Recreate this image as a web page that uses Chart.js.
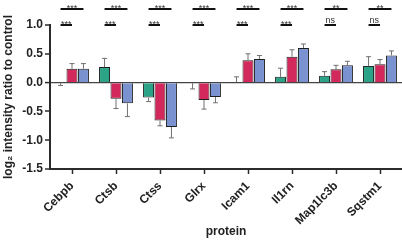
<!DOCTYPE html>
<html>
<head>
<meta charset="utf-8">
<script src="https://cdn.jsdelivr.net/npm/chart.js@4"></script>
<style>
  html, body { margin: 0; padding: 0; background: #fff; }
  #wrap { width: 402px; height: 242px; }
</style>
</head>
<body>
<div id="wrap"><canvas id="chart" width="402" height="242"></canvas></div>
<script>
const proteins = ['Cebpb', 'Ctsb', 'Ctss', 'Glrx', 'Icam1', 'Il1rn', 'Map1lc3b', 'Sqstm1'];

// mean log2 ratios per group
const tealValues = [-0.01, 0.27, -0.26, -0.01, 0.01, 0.10, 0.12, 0.29];
const redValues = [0.24, -0.28, -0.66, -0.30, 0.39, 0.45, 0.23, 0.32];
const blueValues = [0.24, -0.36, -0.77, -0.25, 0.41, 0.60, 0.30, 0.47];

// error bar lengths (one-sided)
const tealErr = [0.04, 0.15, 0.07, 0.10, 0.09, 0.15, 0.07, 0.16];
const redErr = [0.09, 0.17, 0.09, 0.16, 0.11, 0.12, 0.07, 0.08];
const blueErr = [0.09, 0.23, 0.19, 0.10, 0.06, 0.07, 0.07, 0.08];

// significance labels: top row (teal..blue), second row (teal..red)
const sigTop = ['***', '***', '***', '***', '***', '***', '**', '**'];
const sigLow = ['***', '***', '***', '***', '***', '***', 'ns', 'ns'];

const yTicks = [-1.5, -1.0, -0.5, 0.0, 0.5, 1.0];

const FONT = "'Liberation Sans', Arial, sans-serif";
const AXIS = '#2b2b2b';

const errorBars = {
  id: 'errorBars',
  afterDatasetsDraw(chart) {
    const ctx = chart.ctx;
    const y = chart.scales.y;
    ctx.save();
    ctx.strokeStyle = '#707070';
    ctx.lineWidth = 1;
    chart.data.datasets.forEach((ds, d) => {
      const meta = chart.getDatasetMeta(d);
      meta.data.forEach((bar, i) => {
        const v = ds.data[i];
        const dir = v < 0 ? -1 : 1;
        const y0 = y.getPixelForValue(v);
        const y1 = y.getPixelForValue(v + dir * ds.err[i]);
        ctx.beginPath();
        ctx.moveTo(bar.x, y0);
        ctx.lineTo(bar.x, y1);
        ctx.moveTo(bar.x - 2.5, y1);
        ctx.lineTo(bar.x + 2.5, y1);
        ctx.stroke();
      });
    });
    ctx.restore();
  }
};

const sigMarks = {
  id: 'sigMarks',
  afterDraw(chart) {
    const ctx = chart.ctx;
    const top = chart.chartArea.top;
    const m0 = chart.getDatasetMeta(0).data;
    const m1 = chart.getDatasetMeta(1).data;
    const m2 = chart.getDatasetMeta(2).data;
    ctx.save();
    ctx.strokeStyle = '#111';
    ctx.lineWidth = 2;
    ctx.fillStyle = '#333';
    ctx.font = '9px ' + FONT;
    ctx.textAlign = 'center';
    ctx.textBaseline = 'alphabetic';
    proteins.forEach((p, i) => {
      const yTop = top - 16;
      ctx.beginPath();
      ctx.moveTo(m0[i].x, yTop);
      ctx.lineTo(m2[i].x, yTop);
      ctx.moveTo(m0[i].x, top);
      ctx.lineTo(m1[i].x, top);
      ctx.stroke();
      ctx.fillText(sigTop[i], (m0[i].x + m2[i].x) / 2, yTop - 2 + (sigTop[i] === 'ns' ? 0 : 4));
      ctx.fillText(sigLow[i], (m0[i].x + m1[i].x) / 2, top - 2 + (sigLow[i] === 'ns' ? 0 : 4));
    });
    ctx.restore();
  }
};

new Chart(document.getElementById('chart'), {
  type: 'bar',
  data: {
    labels: proteins,
    datasets: [
      { data: tealValues, err: tealErr, backgroundColor: '#2ba386', borderColor: '#1d1d1d', borderWidth: 1 },
      { data: redValues, err: redErr, backgroundColor: '#d3285b', borderColor: '#1d1d1d', borderWidth: 1 },
      { data: blueValues, err: blueErr, backgroundColor: '#7b92d0', borderColor: '#1d1d1d', borderWidth: 1 },
    ],
  },
  options: {
    responsive: false,
    animation: false,
    devicePixelRatio: 1,
    layout: { padding: { top: 25, right: 0, left: 0, bottom: 0 } },
    plugins: { legend: { display: false }, tooltip: { enabled: false } },
    datasets: { bar: { categoryPercentage: 0.78, barPercentage: 0.96 } },
    scales: {
      x: {
        afterFit: s => { s.height = 73; },
        grid: { offset: false, drawOnChartArea: false, drawTicks: true, tickLength: 5, tickColor: AXIS, tickWidth: 1.5 },
        border: { color: AXIS, width: 2 },
        ticks: {
          color: '#222', minRotation: 45, maxRotation: 45, padding: 5,
          font: { family: FONT, size: 12, weight: 'bold' },
        },
        title: {
          display: true, text: 'protein', color: '#222',
          font: { family: FONT, size: 12, weight: 'bold' }, padding: { top: 0, bottom: 3 },
        },
      },
      y: {
        min: -1.5, max: 1.0,
        afterFit: s => { s.width = 50; },
        afterBuildTicks: s => { s.ticks = yTicks.map(v => ({ value: v })); },
        grid: {
          color: c => (c.tick && c.tick.value === 0 ? '#444' : 'rgba(0,0,0,0)'),
          lineWidth: c => (c.tick && c.tick.value === 0 ? 1.2 : 0),
          tickColor: AXIS, tickLength: 5, tickWidth: 1.5,
        },
        border: { color: AXIS, width: 2 },
        ticks: {
          color: '#222', padding: 2,
          font: { family: FONT, size: 12, weight: 'bold' },
          callback: v => Number(v).toFixed(1),
        },
        title: {
          display: true, text: 'log\u2082 intensity ratio to control', color: '#222',
          font: { family: FONT, size: 12, weight: 'bold' }, padding: { top: 1, bottom: 1 },
        },
      },
    },
  },
  plugins: [errorBars, sigMarks],
});
</script>
</body>
</html>
